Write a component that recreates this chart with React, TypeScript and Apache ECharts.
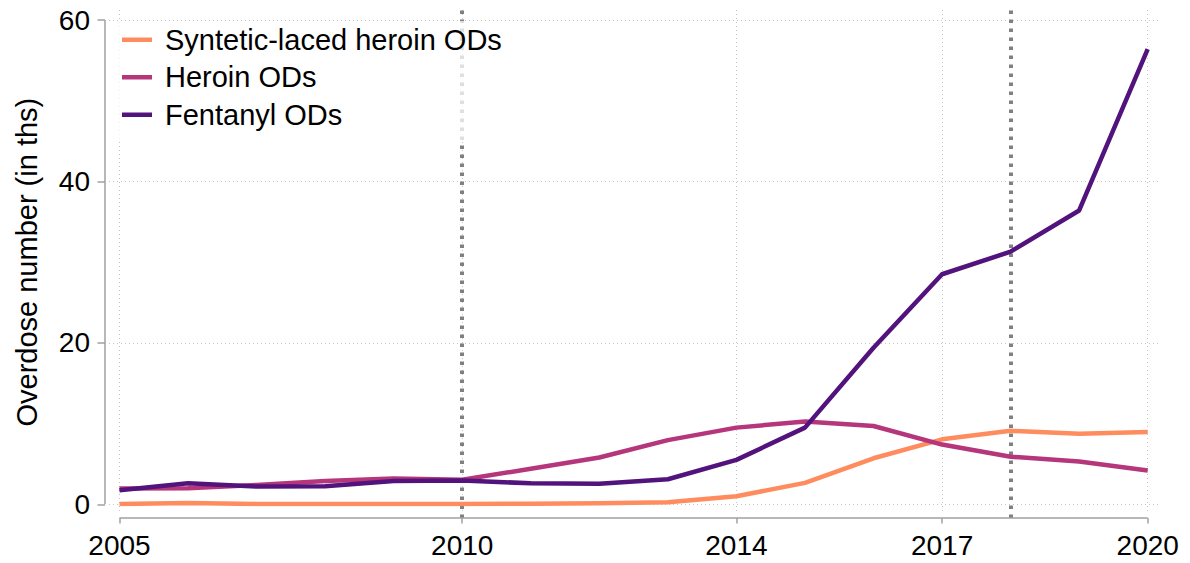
import React, { useEffect, useRef } from "react";
import * as echarts from "echarts";

const years = [2005, 2006, 2007, 2008, 2009, 2010, 2011, 2012, 2013, 2014, 2015, 2016, 2017, 2018, 2019, 2020];
const syntheticLaced = [0.05, 0.15, 0.05, 0.05, 0.05, 0.05, 0.08, 0.12, 0.25, 1.0, 2.65, 5.7, 8.05, 9.1, 8.75, 8.95];
const heroin = [1.95, 2.0, 2.4, 2.9, 3.2, 3.05, 4.4, 5.8, 7.95, 9.5, 10.25, 9.7, 7.4, 5.9, 5.3, 4.2];
const fentanyl = [1.75, 2.6, 2.2, 2.25, 2.9, 2.95, 2.6, 2.55, 3.1, 5.5, 9.5, 19.4, 28.5, 31.3, 36.4, 56.4];
const xTicks = [2005, 2010, 2014, 2017, 2020];
const yTicks = [0, 20, 40, 60];
const refLines = [2010, 2018];
const seriesNames = ["Syntetic-laced heroin ODs", "Heroin ODs", "Fentanyl ODs"];
const seriesColors = ["#FE8C5E", "#B5367A", "#52137C"];

const FONT = "'Liberation Sans', Arial, Helvetica, sans-serif";
const AXIS_GRAY = "#a0a0a0";

export default function App() {
  const ref = useRef<HTMLDivElement>(null);
  useEffect(() => {
    if (!ref.current) return;
    const chart = echarts.init(ref.current, undefined, { renderer: "svg" });
    const W = 1190;
    const H = 563;
    const plotL = 119.5;
    const plotR = W - 1147.7;
    const plotT = 20;
    const plotB = H - 504.3;
    const yAxisX = 105;
    const xAxisY = 518;
    const values = [syntheticLaced, heroin, fentanyl];

    const hiddenX = (gridIndex: number, min: number, max: number) => ({ type: "value", gridIndex, min, max, show: false });
    const hiddenY = hiddenX;
    const mlSeries = (xi: number, data: any[], lineStyle: any) => ({
      type: "line",
      xAxisIndex: xi,
      yAxisIndex: xi,
      data: [],
      z: 1,
      silent: true,
      clip: false,
      markLine: { silent: true, z: 1, symbol: "none", label: { show: false }, lineStyle, data, animation: false },
    });
    const gridStyle = { color: "#c4c4c4", width: 1, type: [1, 3] };
    const axisStyle = { color: AXIS_GRAY, width: 1.5, type: "solid", cap: "butt" };

    const option: any = {
      animation: false,
      backgroundColor: "#fff",
      textStyle: { fontFamily: FONT },
      grid: [
        { left: plotL, right: plotR, top: plotT, bottom: plotB }, // 0 data
        { left: plotL, right: plotR, top: 7, bottom: H - 511 }, // 1 vertical grid lines
        { left: 109, right: 30, top: plotT, bottom: plotB }, // 2 horizontal grid lines
        { left: plotL, right: plotR, top: 7, bottom: H - xAxisY }, // 3 reference lines + x axis line
        { left: plotL, right: plotR, top: xAxisY, bottom: H - xAxisY - 5.5 }, // 4 x ticks
        { left: yAxisX, right: plotR, top: plotT, bottom: plotB }, // 5 y axis line
        { left: yAxisX - 7.5, right: W - yAxisX, top: plotT, bottom: plotB }, // 6 y ticks
      ],
      xAxis: [
        {
          type: "value",
          gridIndex: 0,
          min: 2005,
          max: 2020,
          offset: xAxisY - 504.3,
          axisLine: { show: false },
          axisTick: { show: false },
          axisLabel: {
            customValues: xTicks,
            fontSize: 28,
            color: "#000",
            fontFamily: FONT,
            margin: 13,
            formatter: (v: number) => String(v),
          },
          splitLine: { show: false },
        },
        hiddenX(1, 2005, 2020),
        hiddenX(2, 0, 1),
        hiddenX(3, 2005, 2020),
        hiddenX(4, 2005, 2020),
        hiddenX(5, 0, 1),
        hiddenX(6, 0, 1),
      ],
      yAxis: [
        {
          type: "value",
          gridIndex: 0,
          min: 0,
          max: 60,
          interval: 20,
          offset: plotL - yAxisX,
          name: "Overdose number (in ths)",
          nameLocation: "middle",
          nameRotate: 90,
          nameGap: 64,
          nameTextStyle: { fontSize: 29, color: "#000", fontFamily: FONT },
          axisLine: { show: false },
          axisTick: { show: false },
          axisLabel: { fontSize: 28, color: "#000", fontFamily: FONT, margin: 15 },
          splitLine: { show: false },
        },
        hiddenY(1, 0, 1),
        {
          type: "value",
          gridIndex: 2,
          min: 0,
          max: 60,
          interval: 20,
          show: true,
          axisLine: { show: false },
          axisTick: { show: false },
          axisLabel: { show: false },
          splitLine: { show: true, lineStyle: gridStyle },
        },
        hiddenY(3, 0, 1),
        hiddenY(4, 0, 1),
        hiddenY(5, 0, 60),
        hiddenY(6, 0, 60),
      ],
      legend: {
        orient: "vertical",
        left: 112,
        top: 21,
        padding: [0, 14, 8, 10],
        backgroundColor: "rgba(255,255,255,0.75)",
        z: 4,
        icon: "rect",
        itemWidth: 30,
        itemHeight: 4.5,
        itemGap: 0,
        selectedMode: false,
        data: seriesNames,
        textStyle: { fontSize: 29, lineHeight: 37.5, color: "#000", fontFamily: FONT, padding: [0, 0, 0, 8] },
      },
      series: [
        mlSeries(1, xTicks.map((v) => ({ xAxis: v })), gridStyle),
        mlSeries(3, refLines.map((v) => ({ xAxis: v })), { color: "#808080", width: 4, type: [3.5, 5.5], cap: "butt" }),
        mlSeries(3, [{ yAxis: 0 }], axisStyle),
        mlSeries(4, xTicks.map((v) => ({ xAxis: v })), axisStyle),
        mlSeries(5, [{ xAxis: 0 }], axisStyle),
        mlSeries(6, yTicks.map((v) => ({ yAxis: v })), axisStyle),
        ...seriesNames.map((name, i) => ({
          name,
          type: "line",
          xAxisIndex: 0,
          yAxisIndex: 0,
          z: 3,
          symbol: "none",
          color: seriesColors[i],
          lineStyle: { width: 4.5, color: seriesColors[i], join: "round" },
          data: years.map((y, j) => [y, values[i][j]]),
        })),
      ],
    };
    chart.setOption(option);
    return () => chart.dispose();
  }, []);
  return <div ref={ref} style={{ position: "absolute", left: 0, top: 0, width: 1190, height: 563 }} />;
}
